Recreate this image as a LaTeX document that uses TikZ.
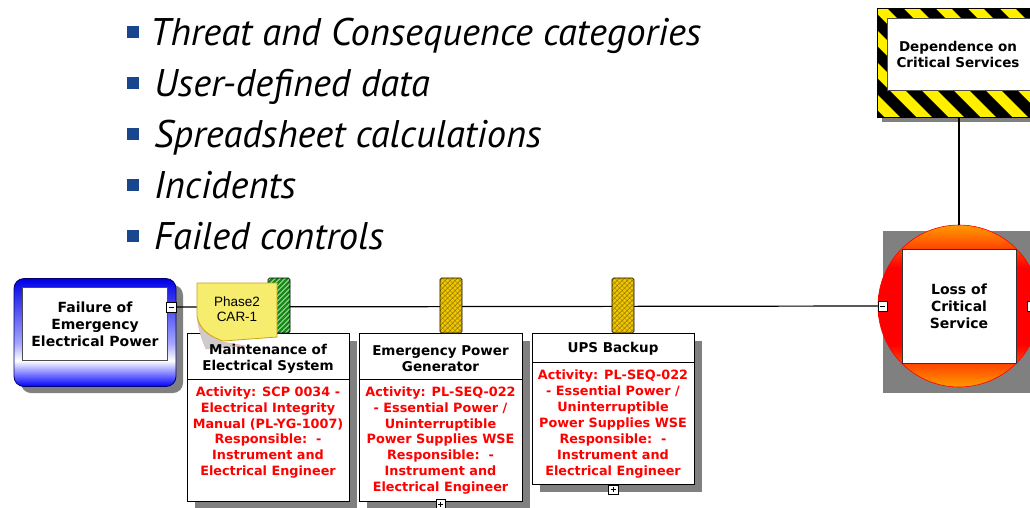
\documentclass[tikz,border=0pt]{standalone}
\usepackage{fontspec}
\newfontfamily\vfont{DejaVu Sans}
\newfontfamily\afont{Liberation Sans}
\newfontfamily\gfont{PT Sans}
\definecolor{navy}{RGB}{25,70,140}
\definecolor{shadowgray}{RGB}{128,128,128}
\definecolor{pingreen}{RGB}{20,140,20}
\definecolor{pinyellow}{RGB}{240,200,0}
\definecolor{hatchdark}{RGB}{110,80,0}
\definecolor{hazyellow}{RGB}{255,240,0}
\definecolor{noteyellow}{RGB}{246,236,110}
\definecolor{noteborder}{RGB}{200,165,20}
\definecolor{lossorange}{RGB}{255,155,0}
\pgfdeclareverticalshading{blueshade}{100bp}{color(0bp)=(blue); color(25bp)=(blue); color(37bp)=(white); color(45bp)=(blue!35!white); color(75bp)=(blue!90!black); color(100bp)=(blue!90!black)}
\pgfdeclareverticalshading{lossshade}{100bp}{color(0bp)=(lossorange); color(25bp)=(lossorange); color(38bp)=(red); color(62bp)=(red); color(75bp)=(lossorange); color(100bp)=(lossorange)}
\begin{document}
\begin{tikzpicture}[x=1pt,y=-1pt,
  bullettext/.style={anchor=base west, inner sep=0pt, font=\gfont\itshape\fontsize{38.5}{44}\selectfont},
  bulletsq/.style={fill=navy, minimum size=12pt, inner sep=0pt},
  boxtitle/.style={font=\vfont\bfseries\fontsize{13.5}{16}\selectfont, align=center, text=black},
  redtext/.style={font=\vfont\bfseries\fontsize{12.8}{15.9}\selectfont, align=center, text=red},
  framebox/.style={draw=black, line width=0.6pt, fill=white, inner sep=0pt},
  pinbox/.style={draw=black, line width=0.6pt, rounded corners=1.5pt, minimum width=22pt, minimum height=55pt, inner sep=0pt},
  smallbox/.style={draw=black, line width=0.5pt, fill=white, minimum size=9.5pt, inner sep=0pt},
]
\useasboundingbox (0,0) rectangle (1030,507);

% ---------- bullet list ----------
\foreach \yy/\xx/\txt [count=\i] in {45/150/Threat and Consequence categories, 96/154/User-defined data, 147/154/Spreadsheet calculations, 198/154/Incidents, 249/154/Failed controls}{
  \node[bulletsq] (bs\i) at (133,\yy-13) {};
  \node[bullettext] (bt\i) at (\xx,\yy) {\txt};
}

% ---------- Failure of Emergency Electrical Power ----------
\fill[shadowgray, rounded corners=10pt] (21,285) rectangle (183,393);
\node[draw={rgb,255:red,0;green,0;blue,110}, line width=0.8pt, rounded corners=10pt, shading=blueshade, minimum width=162pt, minimum height=108pt, inner sep=0pt] (fail) at (95,332.5) {};
\node[framebox, draw=black!70, minimum width=145pt, minimum height=73pt] (failin) at (95,323.5) {};
\node[font=\vfont\bfseries\fontsize{14}{17}\selectfont, align=center] (failtxt) at (95,324) {Failure of\\Emergency\\Electrical Power};
\node[smallbox] (fminus) at (171,307) {};
\draw[line width=0.6pt] ([xshift=-2.5pt]fminus.center) -- ([xshift=2.5pt]fminus.center);

% ---------- Loss of Critical Service ----------
\fill[shadowgray] (883,231) rectangle (1035,393);
\node[circle, draw=red, line width=0.6pt, shading=lossshade, minimum size=162pt, inner sep=0pt] (loss) at (959,306) {};
\node[framebox, draw=black!80, minimum width=114pt, minimum height=114pt] (lossin) at (959,306) {};
\node[font=\vfont\bfseries\fontsize{14}{17}\selectfont, align=center] (losstxt) at (959,306) {Loss of\\Critical\\Service};
\node[smallbox] (lminus) at (882.5,306) {};
\draw[line width=0.6pt] ([xshift=-2.5pt]lminus.center) -- ([xshift=2.5pt]lminus.center);
\node[smallbox] (rminus) at (1032,306) {};

% ---------- main line ----------
\draw[line width=1.2pt] (fminus.east) -- (lminus.west);

% ---------- Dependence on Critical Services ----------
\fill[shadowgray] (882,113) rectangle (1040,122);
\node[draw=black, line width=0.6pt, fill=hazyellow, minimum width=163pt, minimum height=109pt, inner sep=0pt,
  path picture={\foreach \k in {-150,-118,...,190}{\fill[black] ([shift={(\k,0)}]path picture bounding box.north west) -- ++(16,0) -- ++(130,130) -- ++(-16,0) -- cycle;}}] (dep) at (958.5,62.5) {};
\node[framebox, draw=black!70, minimum width=153pt, minimum height=72pt] (depin) at (963.5,54) {};
\node[font=\vfont\bfseries\fontsize{13.5}{16}\selectfont, align=center] (deptxt) at (958,54.5) {Dependence on\\Critical Services};
\draw[line width=1.2pt] (loss.north |- dep.south) -- (loss.north);

% ---------- barrier boxes ----------
\fill[shadowgray] (195,341) rectangle (357,509);
\fill[shadowgray] (367,341) rectangle (530,509);
\fill[shadowgray] (540,341) rectangle (702,492);
\node[framebox, minimum width=162pt, minimum height=168pt] (b1) at (268,417) {};
\node[framebox, minimum width=162pt, minimum height=46pt] (h1) at (268,356) {};
\node[redtext] (t1) at (268,432.5) {Activity: SCP 0034 -\\Electrical Integrity\\Manual (PL-YG-1007)\\Responsible:\ \ -\\Instrument and\\Electrical Engineer};
\node[framebox, minimum width=163pt, minimum height=168pt] (b2) at (440.5,417) {};
\node[framebox, minimum width=163pt, minimum height=46pt] (h2) at (440.5,356) {};
\node[boxtitle] (h2t) at (440.5,358.5) {Emergency Power\\Generator};
\node[redtext] (t2) at (440.5,440.5) {Activity: PL-SEQ-022\\- Essential Power /\\Uninterruptible\\Power Supplies WSE\\Responsible:\ \ -\\Instrument and\\Electrical Engineer};
\node[framebox, minimum width=162pt, minimum height=151pt] (b3) at (613,408.5) {};
\node[framebox, minimum width=162pt, minimum height=29pt] (h3) at (613,347.5) {};
\node[boxtitle] (h3t) at (613,349) {UPS Backup};
\node[redtext] (t3) at (613,424) {Activity: PL-SEQ-022\\- Essential Power /\\Uninterruptible\\Power Supplies WSE\\Responsible:\ \ -\\Instrument and\\Electrical Engineer};
\node[smallbox] (pl2) at (440.5,504) {};
\draw[line width=0.5pt] ([xshift=-2.5pt]pl2.center) -- ([xshift=2.5pt]pl2.center) ([yshift=-2.5pt]pl2.center) -- ([yshift=2.5pt]pl2.center);
\node[smallbox] (pl3) at (613,489.5) {};
\draw[line width=0.5pt] ([xshift=-2.5pt]pl3.center) -- ([xshift=2.5pt]pl3.center) ([yshift=-2.5pt]pl3.center) -- ([yshift=2.5pt]pl3.center);

% ---------- barrier pins ----------
\node[pinbox, fill=pingreen, path picture={\foreach \k in {-36,-31,...,36}{\draw[white, line width=0.6pt] ([shift={(\k,0)}]path picture bounding box.center) ++(-30,30) -- ++(60,-60);}}] (p1) at (279,305.5) {};
\node[pinbox, fill=pinyellow, path picture={\foreach \k in {-36,-31,...,36}{\draw[hatchdark, line width=0.35pt] ([shift={(\k,0)}]path picture bounding box.center) ++(-30,30) -- ++(60,-60); \draw[hatchdark, line width=0.35pt] ([shift={(\k,0)}]path picture bounding box.center) ++(-30,-30) -- ++(60,60);}}] (p2) at (451,305.5) {};
\node[pinbox, fill=pinyellow, path picture={\foreach \k in {-36,-31,...,36}{\draw[hatchdark, line width=0.35pt] ([shift={(\k,0)}]path picture bounding box.center) ++(-30,30) -- ++(60,-60); \draw[hatchdark, line width=0.35pt] ([shift={(\k,0)}]path picture bounding box.center) ++(-30,-30) -- ++(60,60);}}] (p3) at (623,305.5) {};

% ---------- sticky note ----------
\fill[gray!40, draw={rgb,255:red,240;green,170;blue,170}, line width=0.4pt] (197,316) .. controls (199,333) and (203,342) .. (206,349) -- (246,346) -- (223,342) .. controls (208,337) and (199,328) .. (197,316) -- cycle;
\filldraw[fill=noteyellow, draw=noteborder, line width=0.8pt] (197,283) -- (277,283) -- (277,337) -- (223,341) .. controls (208,336) and (199,328) .. (197,316) -- cycle;
\node[font=\afont\fontsize{13.5}{14.5}\selectfont, align=center] (note) at (237,309) {Phase2\\CAR-1};

% title of box 1 drawn over the note's shadow
\node[boxtitle] (h1t) at (268,358.5) {Maintenance of\\Electrical System};
\end{tikzpicture}
\end{document}
